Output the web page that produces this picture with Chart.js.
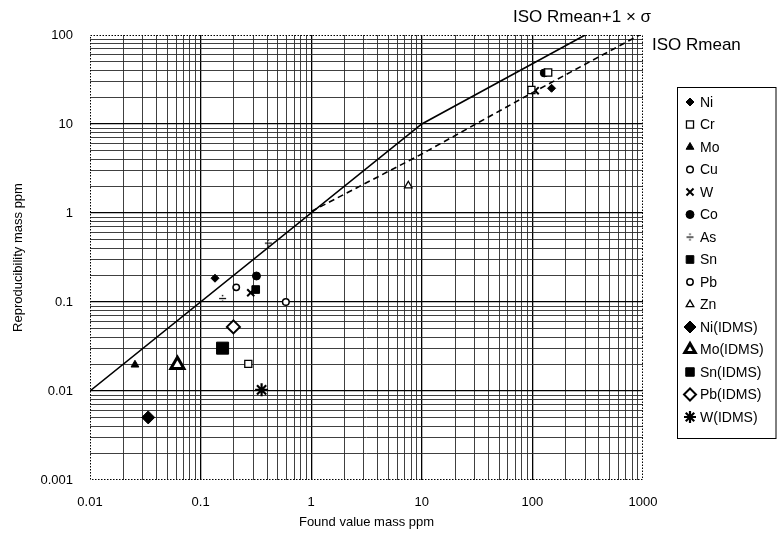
<!DOCTYPE html>
<html>
<head>
<meta charset="utf-8">
<script src="https://cdn.jsdelivr.net/npm/chart.js@4.4.0/dist/chart.umd.min.js"></script>
<style>
  html, body { margin: 0; padding: 0; background: #fff; }
</style>
</head>
<body>
<canvas id="myChart" width="777" height="533"></canvas>
<script>
// decades that carry a label on each axis
const xDecades = [0.01, 0.1, 1, 10, 100, 1000];
const yDecades = [0.001, 0.01, 0.1, 1, 10, 100];

// elements, found value (ppm) and reproducibility (ppm)
const elements = ['Ni', 'Cr', 'Mo', 'Cu', 'W', 'Co', 'As', 'Sn', 'Pb', 'Zn',
  'Ni(IDMS)', 'Mo(IDMS)', 'Sn(IDMS)', 'Pb(IDMS)', 'W(IDMS)'];
const foundValue = [
  [0.135, 149], [0.27, 98, 139], [0.0255], [0.59], [0.284, 106], [0.32, 128],
  [0.158, 0.41], [0.315], [0.21], [7.55],
  [0.0336], [0.0617], [0.158], [0.198], [0.356]
];
const reproducibility = [
  [0.185, 25.2], [0.0202, 24.1, 37.9], [0.0197], [0.1], [0.127, 23.7], [0.196, 37.5],
  [0.11, 0.46], [0.138], [0.146], [2.03],
  [0.00505], [0.0197], [0.0303], [0.0525], [0.0103]
];

// ISO curves
const isoSigmaLabel = 'ISO Rmean+1 \u00d7 \u03c3';
const isoSigmaX = [0.01, 10, 300];
const isoSigmaY = [0.01, 10, 100];
const isoMeanLabel = 'ISO Rmean';
const isoMeanX = [1, 10, 100, 1000];
const isoMeanY = [1.04, 4.6, 22.5, 105];

const FONT = '"Liberation Sans", Arial, sans-serif';

// small "÷" marker for As
function divideMark() {
  const c = document.createElement('canvas');
  c.width = 9; c.height = 9;
  const g = c.getContext('2d');
  g.fillStyle = '#000';
  g.fillRect(1, 4, 7, 1.2);
  g.fillRect(3.8, 1, 1.4, 1.4);
  g.fillRect(3.8, 6.6, 1.4, 1.4);
  return c;
}

const markers = [
  { style: 'rectRot', r: 4, fill: '#000', bw: 1 },
  { style: 'rect', r: 5, fill: '#fff', bw: 1.3 },
  { style: 'triangle', r: 4.5, fill: '#000', bw: 1 },
  { style: 'circle', r: 3.3, fill: '#fff', bw: 1.5 },
  { style: 'crossRot', r: 5, fill: '#000', bw: 2 },
  { style: 'circle', r: 4, fill: '#000', bw: 1 },
  { style: divideMark(), r: 4, fill: '#000', bw: 1 },
  { style: 'rect', r: 5.4, fill: '#000', bw: 1 },
  { style: 'circle', r: 3.2, fill: '#fff', bw: 1.5 },
  { style: 'triangle', r: 4.4, fill: '#fff', bw: 1.3 },
  { style: 'rectRot', r: 6.5, fill: '#000', bw: 1 },
  { style: 'triangle', r: 7.5, fill: '#fff', bw: 3 },
  { style: 'rect', r: 8.5, fill: '#000', bw: 1 },
  { style: 'rectRot', r: 6.5, fill: '#fff', bw: 2 },
  { style: 'star', r: 6.5, fill: '#000', bw: 2.2 }
];

function gridValues(decades) {
  const out = [];
  decades.forEach((d, i) => {
    if (i === decades.length - 1) { out.push(d); return; }
    for (let k = 1; k <= 9; k++) out.push(parseFloat((k * d).toPrecision(6)));
  });
  return out;
}
function isDecade(v) {
  const l = Math.log10(v);
  return Math.abs(l - Math.round(l)) < 1e-9;
}

const pointSets = elements.map((name, i) => ({
  label: name,
  data: foundValue[i].map((x, j) => ({ x: x, y: reproducibility[i][j] })),
  pointStyle: markers[i].style,
  pointRadius: markers[i].r,
  backgroundColor: markers[i].fill,
  borderColor: '#000',
  borderWidth: markers[i].bw
}));

const lineSets = [
  {
    label: isoSigmaLabel,
    data: isoSigmaX.map((x, j) => ({ x: x, y: isoSigmaY[j] })),
    showLine: true, pointRadius: 0, borderColor: '#000', borderWidth: 1.6
  },
  {
    label: isoMeanLabel,
    data: isoMeanX.map((x, j) => ({ x: x, y: isoMeanY[j] })),
    showLine: true, pointRadius: 0, borderColor: '#000', borderWidth: 1.6,
    borderDash: [6, 4]
  }
];

function axis(decades, pos, title) {
  return {
    type: 'logarithmic',
    position: pos,
    min: decades[0],
    max: decades[decades.length - 1],
    afterBuildTicks: (scale) => {
      scale.ticks = gridValues(decades).map(v => ({ value: v, major: isDecade(v) }));
    },
    ticks: {
      autoSkip: false,
      maxRotation: 0,
      color: '#000',
      padding: pos === 'left' ? 17 : 15,
      font: { family: FONT, size: 13 },
      callback: (v) => isDecade(v) ? String(v) : ''
    },
    grid: {
      drawTicks: false,
      color: (c) => {
        const v = c.tick ? c.tick.value : null;
        if (v === decades[0] || v === decades[decades.length - 1]) return 'rgba(0,0,0,0)';
        return v !== null && isDecade(v) ? '#000' : '#2a2a2a';
      },
      lineWidth: (c) => (c.tick && isDecade(c.tick.value)) ? 1.3 : 0.9
    },
    border: { display: false },
    title: {
      display: true,
      text: title,
      color: '#000',
      font: { family: FONT, size: 13 },
      padding: pos === 'left' ? { top: 11, bottom: 0 } : { top: 0, bottom: 3 }
    },
    afterFit: (scale) => {
      if (pos === 'left') scale.width = 90;
      else scale.height = 53;
    }
  };
}

// dotted frame around the plot
const frame = {
  id: 'frame',
  beforeDatasetsDraw(chart) {
    const { ctx, chartArea: a } = chart;
    ctx.save();
    ctx.strokeStyle = '#000';
    ctx.lineWidth = 1;
    ctx.setLineDash([1.5, 1.5]);
    ctx.strokeRect(a.left + 0.5, a.top + 0.5, a.right - a.left - 1, a.bottom - a.top - 1);
    ctx.restore();
  }
};

// curve names and the boxed legend on the right
const extras = {
  id: 'extras',
  afterDraw(chart) {
    const { ctx, chartArea: a } = chart;
    ctx.save();
    ctx.fillStyle = '#000';
    ctx.textBaseline = 'middle';
    ctx.textAlign = 'left';
    ctx.font = '17px ' + FONT;
    ctx.fillText(isoSigmaLabel, a.right - 130, a.top - 18);
    ctx.fillText(isoMeanLabel, a.right + 9, a.top + 10);

    const left = a.right + 34, top = a.top + 52, row = 22.5;
    const right = chart.width - 1, bottom = top + 15 + (elements.length - 1) * row + 21;
    ctx.strokeStyle = '#000';
    ctx.lineWidth = 1;
    ctx.strokeRect(left + 0.5, top + 0.5, right - left - 0.5, bottom - top);

    ctx.font = '14px ' + FONT;
    pointSets.forEach((ds, i) => {
      const y = top + 15 + i * row;
      ctx.fillStyle = ds.backgroundColor;
      ctx.strokeStyle = ds.borderColor;
      ctx.lineWidth = ds.borderWidth;
      Chart.helpers.drawPoint(ctx, {
        pointStyle: ds.pointStyle,
        radius: Math.min(ds.pointRadius, 6),
        borderWidth: ds.borderWidth
      }, left + 13, y);
      ctx.fillStyle = '#000';
      ctx.fillText(ds.label, left + 23, y + 1);
    });
    ctx.restore();
  }
};

new Chart(document.getElementById('myChart'), {
  type: 'scatter',
  data: { datasets: lineSets.concat(pointSets) },
  options: {
    responsive: false,
    animation: false,
    events: [],
    layout: { padding: { left: 0, top: 35, right: 134, bottom: 0 } },
    plugins: { legend: { display: false }, tooltip: { enabled: false } },
    scales: {
      x: axis(xDecades, 'bottom', 'Found value mass ppm'),
      y: axis(yDecades, 'left', 'Reproducibility mass ppm')
    }
  },
  plugins: [frame, extras]
});
</script>
</body>
</html>
